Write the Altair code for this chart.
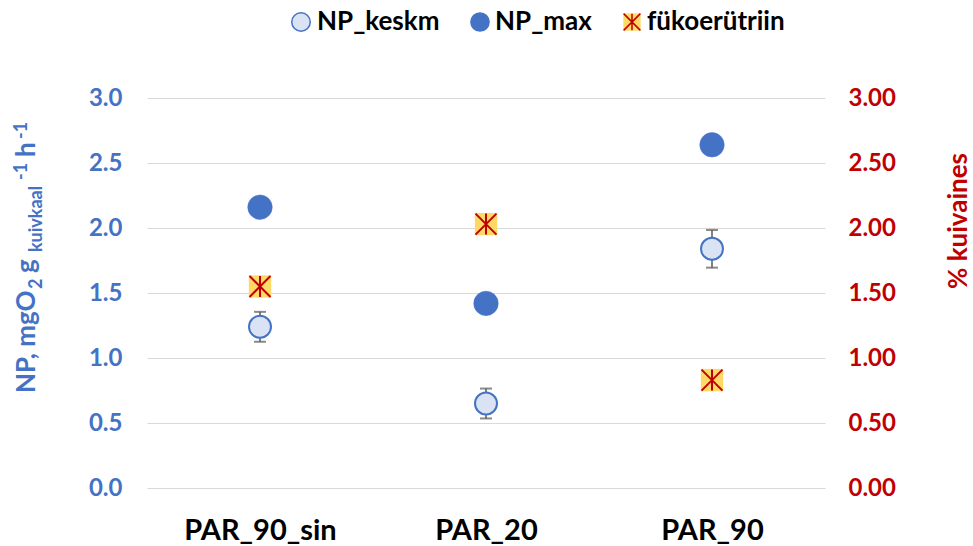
import altair as alt
import pandas as pd

# Kategooriad ja mõõdetud väärtused
categories = ["PAR_90_sin", "PAR_20", "PAR_90"]
np_keskm = [1.24, 0.65, 1.84]          # NP keskmine, mgO2 g kuivkaal-1 h-1
np_keskm_err = [0.115, 0.115, 0.145]   # standardviga
np_max = [2.16, 1.42, 2.64]            # NP maksimum
fukoerutriin = [1.55, 2.03, 0.83]      # fükoerütriin, % kuivainest

left_ticks = [0.0, 0.5, 1.0, 1.5, 2.0, 2.5, 3.0]
right_ticks = [0.0, 0.5, 1.0, 1.5, 2.0, 2.5, 3.0]

BLUE = "#4472C4"
LIGHT = "#DAE3F3"
RED = "#C00000"
YELLOW = "#FFD966"
GRID = "#D9D9D9"
ERR = "#595959"
FONT = "Lato"
STAR = "M0,-1L0,1M-1,-1L1,1M-1,1L1,-1"

W, H = 678, 390

df = pd.DataFrame({
    "kategooria": categories,
    "NP_keskm": np_keskm,
    "viga": np_keskm_err,
    "NP_max": np_max,
    "fukoerutriin": fukoerutriin,
})

x_enc = alt.X(
    "kategooria:N", sort=categories,
    scale=alt.Scale(type="point", padding=0.5),
    axis=alt.Axis(title=None, labelAngle=0, labelFont=FONT, labelFontWeight="bold",
                  labelFontSize=29, labelColor="black", labelPadding=28,
                  domain=False, ticks=False, grid=False),
)

y_left_scale = alt.Scale(domain=[0, 3], nice=False, zero=True)
left_axis = alt.Axis(title=None, values=left_ticks, format=".1f", labelFont=FONT,
                     labelFontWeight="bold", labelFontSize=24, labelColor=BLUE,
                     labelPadding=25, domain=False, ticks=False, grid=True,
                     gridColor=GRID, gridWidth=1)

y_right_scale = alt.Scale(domain=[0, 3], nice=False, zero=True)
right_axis = alt.Axis(title=None, orient="right", values=right_ticks, format=".2f",
                      labelFont=FONT, labelFontWeight="bold", labelFontSize=24,
                      labelColor=RED, labelPadding=23, domain=False, ticks=False,
                      grid=False)

base = alt.Chart(df).encode(x=x_enc)

err = base.transform_calculate(
    lo="datum.NP_keskm - datum.viga", hi="datum.NP_keskm + datum.viga"
)
err_rule = err.mark_rule(color=ERR, strokeWidth=1.5).encode(
    y=alt.Y("lo:Q", scale=y_left_scale, axis=left_axis), y2="hi:Q"
)
cap_lo = err.mark_tick(color=ERR, size=12, thickness=2, orient="horizontal").encode(
    y=alt.Y("lo:Q", scale=y_left_scale, axis=left_axis)
)
cap_hi = err.mark_tick(color=ERR, size=12, thickness=2, orient="horizontal").encode(
    y=alt.Y("hi:Q", scale=y_left_scale, axis=left_axis)
)
keskm_pts = base.mark_point(shape="circle", filled=True, fill=LIGHT, stroke=BLUE,
                            strokeWidth=2, size=484, opacity=1).encode(
    y=alt.Y("NP_keskm:Q", scale=y_left_scale, axis=left_axis)
)
max_pts = base.mark_point(shape="circle", filled=True, fill=BLUE, stroke=BLUE,
                          strokeWidth=0.5, size=600, opacity=1).encode(
    y=alt.Y("NP_max:Q", scale=y_left_scale, axis=left_axis)
)
left = alt.layer(err_rule, cap_lo, cap_hi, keskm_pts, max_pts)

fuko_sq = base.mark_point(shape="square", filled=True, fill=YELLOW, strokeWidth=0,
                          size=500, opacity=1).encode(
    y=alt.Y("fukoerutriin:Q", scale=y_right_scale, axis=right_axis)
)
fuko_star = base.mark_point(shape=STAR, filled=False, stroke=RED, strokeWidth=2,
                            size=440, opacity=1).encode(
    y=alt.Y("fukoerutriin:Q", scale=y_right_scale, axis=right_axis)
)
right = alt.layer(fuko_sq, fuko_star)

# Teljepealkirjad ja legend
one = pd.DataFrame({"n": [0]})


def txt(s, x, y, size, color, angle=0, align="left", baseline="alphabetic"):
    return alt.Chart(one).mark_text(
        text=s, font=FONT, fontWeight="bold", fontSize=size, color=color,
        angle=angle, align=align, baseline=baseline,
    ).encode(x=alt.value(x), y=alt.value(y))


def sym(x, y, **kw):
    return alt.Chart(one).mark_point(opacity=1, **kw).encode(
        x=alt.value(x), y=alt.value(y)
    )


# vasaku telje pealkiri: NP, mgO2 g kuivkaal^-1 h^-1 (alaindeksid ja astendajad)
left_title = [
    txt("NP, mgO", -112, 295, 26, BLUE, angle=270),
    txt("2", -105, 191, 18, BLUE, angle=270),
    txt("g", -112, 175, 26, BLUE, angle=270),
    txt("kuivkaal", -105, 154, 18, BLUE, angle=270),
    txt("-1", -120, 82, 18, BLUE, angle=270),
    txt("h", -112, 59, 26, BLUE, angle=270),
    txt("-1", -120, 41, 18, BLUE, angle=270),
]
right_title = [txt("% kuivaines", 820, 123, 26, RED, angle=270, align="center")]

LY = -76
legend = [
    sym(154, LY, shape="circle", filled=True, fill=LIGHT, stroke=BLUE, strokeWidth=1.5, size=342),
    txt("NP_keskm", 170, LY, 26, "black", baseline="middle"),
    sym(333, LY, shape="circle", filled=True, fill=BLUE, strokeWidth=0, size=388),
    txt("NP_max", 348, LY, 26, "black", baseline="middle"),
    sym(485, LY, shape="square", filled=True, fill=YELLOW, strokeWidth=0, size=300),
    sym(485, LY, shape=STAR, filled=False, stroke=RED, strokeWidth=1.5, size=280),
    txt("fükoerütriin", 500, LY, 26, "black", baseline="middle"),
]

annotations = alt.layer(*left_title, *right_title, *legend)

chart = alt.layer(left, right, annotations).resolve_scale(
    y="independent"
).properties(
    width=W, height=H,
    autosize=alt.AutoSizeParams(type="none"),
    padding={"left": 147, "top": 98, "right": 148, "bottom": 58},
    background="white",
).configure_view(stroke=None)

chart.save("out.html", embed_options={"renderer": "svg", "actions": False})
